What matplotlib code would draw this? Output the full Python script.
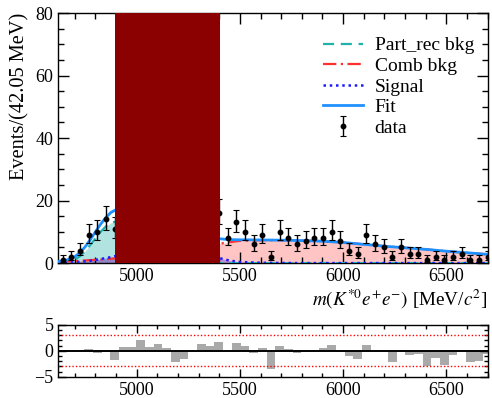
import matplotlib
matplotlib.use("Agg")
import matplotlib.pyplot as plt
import numpy as np
from matplotlib.ticker import MultipleLocator

plt.rcParams["font.family"] = ["Liberation Serif", "DejaVu Serif"]
plt.rcParams["mathtext.fontset"] = "stix"

BIN_WIDTH = 42.05
X_MIN, X_MAX = 4620.0, 6700.0
BLIND_LO, BLIND_HI = 4895.0, 5403.0

# data per bin (bin k centred at X_MIN + (k + 0.5) * BIN_WIDTH); nan = hidden under blind box
data_counts = [
    1, 2, 4, 9, 10, 14, 11,
    np.nan, np.nan, np.nan, np.nan, np.nan, np.nan, np.nan, np.nan, np.nan, np.nan, np.nan,
    16, 8, 13, 10, 6, 9, 2, 10, 8, 6, 7, 8, 8, 10, 7, 4, 3, 9, 6, 5, 2, 5,
    3, 3, 1, 2, 1, 2, 3, 1, 1, 2,
]

residuals = [
    0.0, 0.0, 0.0, 0.3, -0.5, -0.3, -1.7, 0.8, 0.8, 2.1,
    0.8, 1.4, 0.6, -2.2, -1.6, -0.1, 1.3, 0.9, 1.8, 0.0,
    1.6, 1.0, -0.4, 0.5, -3.5, 1.0, 0.3, -0.4, 0.0, 0.2,
    0.5, 1.1, -0.2, -1.0, -1.5, 1.2, 0.0, 0.0, -2.2, 0.0,
    -0.9, -0.7, -3.0, -1.4, -2.8, -0.9, 0.0, -2.2, -1.9, -0.6,
]

# fit components
curve_mass = [
    4620, 4650, 4675, 4700, 4725, 4750, 4775, 4800, 4825, 4850, 4875, 4900,
    5400, 5450, 5500, 5600, 5700, 5800, 5900, 6000, 6100, 6200, 6300, 6400, 6500, 6600, 6700,
]
part_rec = [
    0.05, 0.2, 0.5, 1.1, 2.2, 3.8, 5.8, 7.9, 10.0, 11.7, 12.9, 13.3,
    0.0, 0.0, 0.0, 0.0, 0.0, 0.0, 0.0, 0.0, 0.0, 0.0, 0.0, 0.0, 0.0, 0.0, 0.0,
]
comb_bkg = [
    0.35, 0.45, 0.55, 0.65, 0.75, 0.85, 0.95, 1.05, 1.15, 1.25, 1.4, 1.5,
    6.2, 6.7, 7.1, 7.3, 7.3, 7.2, 7.0, 6.6, 6.0, 5.4, 4.9, 4.4, 3.8, 3.3, 2.8,
]
signal = [
    0.1, 0.15, 0.2, 0.3, 0.4, 0.55, 0.75, 1.0, 1.3, 1.6, 1.9, 2.3,
    1.6, 0.8, 0.35, 0.1, 0.03, 0.0, 0.0, 0.0, 0.0, 0.0, 0.0, 0.0, 0.0, 0.0, 0.0,
]
fit_total = [
    0.5, 0.8, 1.25, 2.05, 3.35, 5.2, 7.5, 10.0, 12.45, 14.55, 16.2, 17.1,
    7.8, 7.5, 7.45, 7.4, 7.33, 7.2, 7.0, 6.6, 6.0, 5.4, 4.9, 4.4, 3.8, 3.3, 2.8,
]

PART_COLOR = "#20b2aa"
COMB_COLOR = "#ff3030"
SIG_COLOR = "#1c1cff"
FIT_COLOR = "#1e90ff"


def style_axis(ax, ymajor, yminor):
    ax.set_xlim(X_MIN, X_MAX)
    ax.xaxis.set_major_locator(MultipleLocator(500))
    ax.xaxis.set_minor_locator(MultipleLocator(100))
    ax.yaxis.set_major_locator(MultipleLocator(ymajor))
    ax.yaxis.set_minor_locator(MultipleLocator(yminor))
    ax.tick_params(which="both", direction="in", top=True, right=True, labelsize=13, width=1)
    ax.tick_params(which="major", length=8)
    ax.tick_params(which="minor", length=4)
    for sp in ax.spines.values():
        sp.set_linewidth(1.0)


def main():
    fig = plt.figure(figsize=(4.92, 3.98), dpi=100)
    ax = fig.add_axes([0.1185, 0.339, 0.8724, 0.628])
    rax = fig.add_axes([0.1185, 0.0535, 0.8724, 0.130])

    m = np.array(curve_mass, dtype=float)
    ax.fill_between(m, 0, part_rec, color=PART_COLOR, alpha=0.35, lw=0, zorder=1)
    ax.fill_between(m, 0, comb_bkg, color=COMB_COLOR, alpha=0.28, lw=0, zorder=1)
    ax.fill_between(m, 0, signal, color=SIG_COLOR, alpha=0.3, lw=0, zorder=1)
    ax.plot(m, part_rec, ls=(0, (5, 3)), color=PART_COLOR, lw=1.6, zorder=3, label="Part_rec bkg")
    ax.plot(m, comb_bkg, ls=(0, (6, 2, 1, 2)), color=COMB_COLOR, lw=1.6, zorder=3, label="Comb bkg")
    ax.plot(m, signal, ls=(0, (1, 1.5)), color=SIG_COLOR, lw=1.8, zorder=3, label="Signal")
    ax.plot(m, fit_total, ls="-", color=FIT_COLOR, lw=2.0, zorder=4, label="Fit")

    counts = np.array(data_counts, dtype=float)
    centers = X_MIN + (np.arange(len(counts)) + 0.5) * BIN_WIDTH
    err_hi = np.sqrt(counts + 0.25) + 0.5
    err_lo = np.sqrt(counts + 0.25) - 0.5
    ax.errorbar(centers, counts, yerr=[err_lo, err_hi], fmt="o", color="black", ms=3.2,
                elinewidth=1.0, capsize=2, capthick=0.8, zorder=5, label="data")

    ax.axvspan(BLIND_LO, BLIND_HI, color="#8b0000", lw=0, zorder=10)

    ax.set_ylim(0, 80)
    style_axis(ax, 20, 5)

    handles, labels = ax.get_legend_handles_labels()
    ax.legend(handles, labels, loc="upper left", bbox_to_anchor=(0.617, 0.905), frameon=False,
              fontsize=14, handlelength=2.05, labelspacing=0.15, borderpad=0, borderaxespad=0,
              handletextpad=0.6)

    fig.text(0.04, 0.967, "Events/(42.05 MeV)", rotation=90, ha="center", va="top", fontsize=14.7)
    fig.text(0.99, 0.249, r"$m(K^{*0}e^{+}e^{-})$ [MeV/$c^{2}$]", ha="right", va="center", fontsize=13.8)

    edges = X_MIN + np.arange(len(residuals)) * BIN_WIDTH
    rax.bar(edges, residuals, width=BIN_WIDTH, align="edge", color="#a9a9a9", lw=0, zorder=1)
    rax.axhline(0, color="black", lw=1.4, zorder=2)
    rax.axhline(3, color="red", ls=(0, (1, 1.5)), lw=1.0, zorder=2)
    rax.axhline(-3, color="red", ls=(0, (1, 1.5)), lw=1.0, zorder=2)
    rax.set_ylim(-5, 5)
    style_axis(rax, 5, 1)
    rax.tick_params(which="major", length=6)
    rax.tick_params(which="minor", length=3)

    fig.savefig("out.png", dpi=100)
    plt.close(fig)


if __name__ == "__main__":
    main()
